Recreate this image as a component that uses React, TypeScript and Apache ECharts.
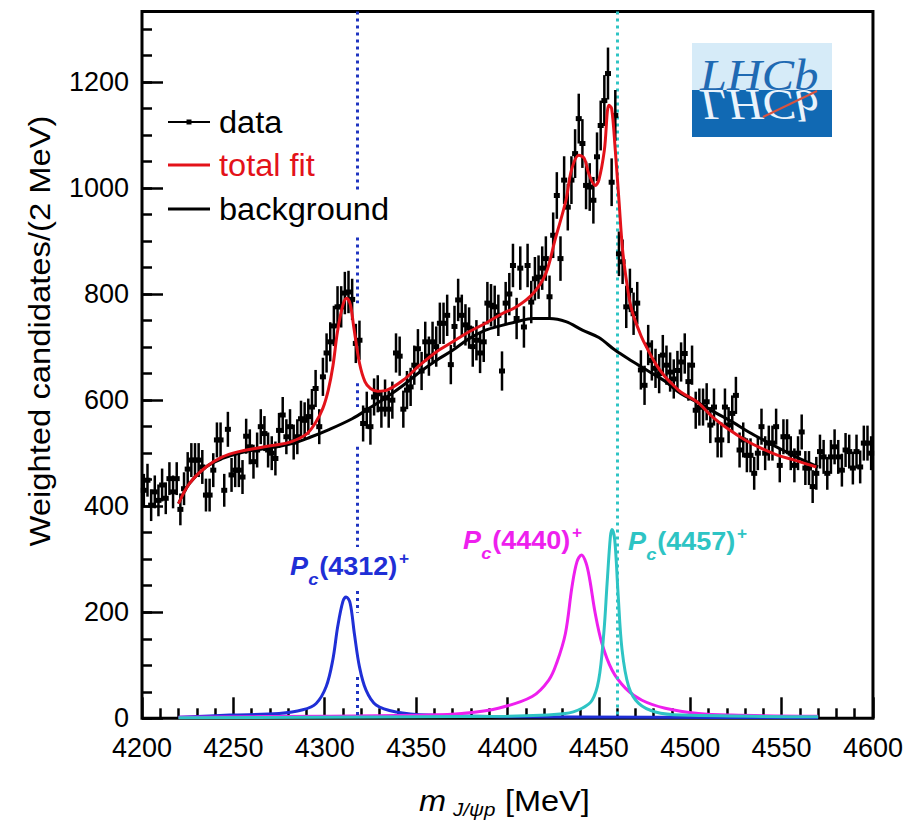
import React, { useEffect, useRef } from "react";
import * as echarts from "echarts";

// ---------- data ----------
const BIN_START = 4200;
const BIN_WIDTH = 2;

// weighted candidates per 2 MeV bin, 4200-4600 MeV (200 bins)
const counts = [
  430, 449, 402, 427, 411, 440, 415, 452, 427, 452,
  394, 433, 470, 487, 487, 487, 474, 421, 421, 468,
  525, 525, 430, 545, 459, 468, 468, 455, 532, 512,
  484, 506, 550, 537, 506, 500, 490, 543, 572, 531,
  550, 521, 531, 565, 562, 569, 587, 622, 550, 644,
  689, 710, 740, 776, 776, 802, 804, 790, 707, 713,
  556, 581, 550, 606, 612, 583, 604, 583, 600, 689,
  683, 583, 619, 625, 666, 697, 655, 710, 683, 710,
  701, 745, 745, 760, 667, 739, 789, 760, 742, 736,
  701, 713, 689, 710, 783, 779, 776, 760, 655, 783,
  800, 854, 754, 849, 738, 854, 785, 829, 832, 849,
  867, 795, 911, 986, 867, 1015, 964, 1015, 1065, 1131,
  1084, 1005, 1002, 977, 1059, 1118, 1165, 1216, 1011, 1137,
  876, 861, 776, 807, 763, 783, 657, 628, 704, 675,
  660, 650, 685, 666, 653, 640, 656, 672, 688, 635,
  666, 581, 587, 587, 597, 553, 587, 525, 525, 587,
  553, 575, 609, 506, 525, 496, 496, 462, 500, 550,
  500, 519, 519, 550, 477, 531, 531, 500, 477, 500,
  540, 472, 472, 437, 462, 503, 493, 462, 493, 512,
  493, 468, 506, 503, 472, 503, 474, 519, 519, 500,
];

const errors = [
  31, 31, 30, 31, 30, 31, 30, 31, 31, 31,
  30, 31, 32, 32, 32, 32, 32, 31, 31, 32,
  33, 33, 31, 33, 32, 32, 32, 32, 33, 33,
  32, 33, 33, 33, 33, 32, 32, 33, 34, 33,
  33, 33, 33, 34, 34, 34, 34, 35, 33, 36,
  37, 37, 38, 39, 39, 40, 40, 39, 37, 37,
  34, 35, 34, 35, 35, 35, 35, 35, 35, 37,
  37, 35, 36, 36, 37, 37, 36, 38, 37, 38,
  38, 39, 39, 39, 37, 39, 40, 39, 39, 39,
  38, 38, 38, 38, 40, 40, 40, 39, 37, 40,
  40, 41, 39, 41, 39, 41, 40, 41, 41, 41,
  42, 40, 43, 44, 42, 45, 44, 45, 46, 47,
  46, 45, 45, 44, 46, 47, 48, 49, 45, 48,
  42, 42, 40, 41, 40, 40, 37, 37, 38, 38,
  37, 37, 38, 37, 37, 37, 37, 37, 38, 36,
  37, 35, 35, 35, 35, 34, 35, 33, 33, 35,
  34, 34, 35, 33, 33, 32, 32, 31, 32, 34,
  32, 33, 33, 34, 32, 33, 33, 32, 32, 32,
  33, 32, 32, 31, 31, 32, 32, 31, 32, 33,
  32, 31, 32, 32, 31, 32, 31, 33, 33, 32,
];

// total fit (red)
const totMass = [4220, 4226, 4235, 4244, 4253, 4262, 4272, 4281, 4290, 4295, 4299, 4302, 4304.5, 4307, 4310, 4312, 4314, 4316, 4319, 4322, 4325, 4329, 4334, 4343, 4352, 4361, 4370, 4379, 4388, 4397, 4405, 4414, 4421, 4426, 4432, 4435, 4439, 4442, 4444.5, 4448, 4450, 4453, 4455.5, 4457, 4459, 4461, 4463, 4465.5, 4468, 4473, 4477, 4481, 4486, 4490, 4495, 4504, 4512, 4521, 4530, 4539, 4548, 4557, 4569];
const totVal = [405, 443, 474, 493, 503, 509, 515, 521, 536, 558, 585, 620, 665, 730, 780, 792, 780, 735, 670, 635, 622, 617, 619, 638, 666, 691, 710, 729, 745, 763, 776, 801, 839, 902, 977, 1034, 1062, 1056, 1027, 1005, 1015, 1071, 1156, 1150, 1071, 977, 883, 816, 770, 722, 694, 669, 645, 631, 615, 596, 569, 545, 525, 509, 496, 487, 474];

// background (black)
const bgMass = [4220, 4226, 4235, 4244, 4253, 4262, 4272, 4282, 4292, 4302, 4315, 4324, 4334, 4343, 4352, 4361, 4370, 4379, 4388, 4397, 4405, 4414, 4423, 4432, 4441, 4450, 4459, 4468, 4477, 4486, 4495, 4504, 4514, 4523, 4532, 4541, 4550, 4559, 4570];
const bgVal = [405, 443, 474, 490, 500, 506, 511, 518, 530, 544, 565, 584, 606, 628, 653, 675, 694, 716, 732, 741, 748, 754, 754, 748, 732, 718, 694, 674, 655, 636, 612, 596, 576, 559, 540, 523, 507, 491, 474];

// Pc(4312)+ (blue)
const pc4312Mass = [4220, 4248, 4275, 4288, 4295.3, 4300.8, 4304.4, 4307.1, 4309.9, 4311.7, 4313.9, 4316.2, 4319, 4322.6, 4328.1, 4339, 4357, 4400, 4480, 4570];
const pc4312Val = [2, 6, 9, 16, 28, 60, 110, 173, 220, 229, 217, 160, 97, 53, 25, 12, 6, 3, 2, 1];

// Pc(4440)+ (magenta)
const pc4440Mass = [4220, 4300, 4357, 4375, 4395, 4413.5, 4422.6, 4427, 4431.7, 4435.3, 4438, 4440.5, 4443, 4445, 4448, 4451.7, 4457.2, 4464.5, 4473.6, 4486.3, 4504.5, 4522.7, 4570];
const pc4440Val = [2, 4, 6, 9, 19, 41, 72, 105, 160, 248, 295, 308, 293, 262, 198, 141, 91, 57, 34, 19, 9, 6, 4];

// Pc(4457)+ (cyan)
const pc4457Mass = [4220, 4400, 4431.7, 4440.8, 4446.3, 4449.9, 4452.7, 4454.5, 4456.3, 4457.2, 4458.7, 4460.5, 4462.7, 4466.3, 4471.8, 4480.9, 4495.4, 4570];
const pc4457Val = [1, 4, 9, 19, 34, 72, 160, 254, 342, 356, 336, 236, 129, 60, 28, 12, 6, 3];

// thresholds (dotted lines)
const thrBlue = 4318;
const thrCyan = 4460;
const blueSegments = [[1333, 996], [907, 783], [632, 587], [512, 323], [240, 199], [78, 0]];
const cyanSegments = [[1333, 0]];

const xTicks = { min: 4200, max: 4600, interval: 50 };
const yTicks = { min: 0, max: 1333, interval: 200, minor: 50 };

// ---------- styling ----------
const FONT = "'Liberation Sans', Arial, Helvetica, sans-serif";
const SERIF = "'Liberation Serif', 'Times New Roman', serif";
const C_RED = "#e3121a";
const C_BLUE = "#1f2fd6";
const C_MAG = "#ee1fee";
const C_CYAN = "#2ec4c4";
const C_DOT_BLUE = "#1f34c0";

function pairs(xs: number[], ys: number[]) {
  return xs.map((x, i) => [x, ys[i]]);
}

function curve(name: string, xs: number[], ys: number[], color: string, z: number) {
  return {
    name,
    type: "line",
    data: pairs(xs, ys),
    showSymbol: false,
    symbol: "none",
    smooth: 0.35,
    lineStyle: { color, width: 3 },
    z,
    silent: true,
  };
}

function pcLabel(x0: number, base: number, mass: string, color: string) {
  const fs = 25;
  return {
    type: "group",
    x: x0,
    y: base,
    scaleX: 1.08,
    children: [
      { type: "text", x: 0, y: -8.5, style: { text: "P", fontFamily: FONT, fontSize: fs, fontWeight: "bold", fontStyle: "italic", fill: color, verticalAlign: "middle", align: "left" } },
      { type: "text", x: 17, y: 4, style: { text: "c", fontFamily: FONT, fontSize: 17, fontWeight: "bold", fontStyle: "italic", fill: color, verticalAlign: "middle", align: "left" } },
      { type: "text", x: 27, y: -8.5, style: { text: "(" + mass + ")", fontFamily: FONT, fontSize: fs, fontWeight: "bold", fill: color, verticalAlign: "middle", align: "left" } },
      { type: "text", x: 101, y: -16, style: { text: "+", fontFamily: FONT, fontSize: 16, fontWeight: "bold", fill: color, verticalAlign: "middle", align: "left" } },
    ],
  };
}

const plain = (v: number) => String(v);

export default function App() {
  const ref = useRef<HTMLDivElement>(null);

  useEffect(() => {
    if (!ref.current) return;
    const chart = echarts.init(ref.current, null, { renderer: "svg" });

    const dataPoints = counts.map((v, i) => [BIN_START + BIN_WIDTH * (i + 0.5), v, errors[i]]);

    const segLines = (x: number, segs: number[][]) =>
      segs.map((s) => [{ coord: [x, s[0]] }, { coord: [x, s[1]] }]);

    const option = {
      animation: false,
      backgroundColor: "#ffffff",
      grid: {
        left: 142,
        right: 31,
        top: 11.5,
        bottom: 102.7,
        show: true,
        borderColor: "#000",
        borderWidth: 3,
        backgroundColor: "transparent",
      },
      xAxis: [
        {
          type: "value",
          min: xTicks.min,
          max: xTicks.max,
          interval: xTicks.interval,
          axisLine: { show: false },
          axisTick: { show: true, inside: true, length: 21, lineStyle: { color: "#000", width: 2.5 } },
          minorTick: { show: true, splitNumber: 5, length: 10, lineStyle: { color: "#000", width: 2.5 } },
          splitLine: { show: false },
          minorSplitLine: { show: false },
          axisLabel: { fontSize: 27, color: "#000", fontFamily: FONT, margin: 16, formatter: plain },
        },
      ],
      yAxis: [
        {
          type: "value",
          position: "left",
          min: yTicks.min,
          max: yTicks.max,
          interval: yTicks.interval,
          axisLine: { show: false },
          axisTick: { show: true, inside: true, length: 21, lineStyle: { color: "#000", width: 2.5 } },
          splitLine: { show: false },
          axisLabel: { fontSize: 27, color: "#000", fontFamily: FONT, margin: 13, showMaxLabel: false, formatter: plain },
        },
        {
          type: "value",
          position: "left",
          offset: 0,
          min: yTicks.min,
          max: yTicks.max,
          interval: yTicks.minor,
          axisLine: { show: false },
          axisTick: { show: true, inside: true, length: 10, lineStyle: { color: "#000", width: 2.5 } },
          splitLine: { show: false },
          axisLabel: { show: false },
        },
      ],
      series: [
        {
          name: "thresholds",
          type: "line",
          data: [],
          silent: true,
          z: 1,
          markLine: {
            silent: true,
            symbol: "none",
            label: { show: false },
            animation: false,
            data: [
              ...segLines(thrBlue, blueSegments).map((d) => [
                { ...d[0], lineStyle: { color: C_DOT_BLUE, width: 3, type: [3, 4] } },
                d[1],
              ]),
              ...segLines(thrCyan, cyanSegments).map((d) => [
                { ...d[0], lineStyle: { color: C_CYAN, width: 3, type: [3, 4] } },
                d[1],
              ]),
            ],
          },
        },
        curve("Pc(4312)+", pc4312Mass, pc4312Val, C_BLUE, 2),
        curve("Pc(4440)+", pc4440Mass, pc4440Val, C_MAG, 3),
        curve("Pc(4457)+", pc4457Mass, pc4457Val, C_CYAN, 4),
        {
          name: "data",
          type: "custom",
          data: dataPoints,
          z: 5,
          silent: true,
          encode: { x: 0, y: 1 },
          renderItem: (params: any, api: any) => {
            const x = api.value(0);
            const y = api.value(1);
            const e = api.value(2);
            const c = api.coord([x, y]);
            const top = api.coord([x, y + e]);
            const bot = api.coord([x, y - e]);
            return {
              type: "group",
              children: [
                { type: "line", shape: { x1: c[0], y1: top[1], x2: c[0], y2: bot[1] }, style: { stroke: "#000", lineWidth: 2.5 } },
                { type: "rect", shape: { x: c[0] - 3, y: c[1] - 2.5, width: 6, height: 5 }, style: { fill: "#000" } },
              ],
            };
          },
        },
        curve("background", bgMass, bgVal, "#000", 6),
        curve("total fit", totMass, totVal, C_RED, 7),
      ],
      graphic: [
        // legend
        { type: "line", shape: { x1: 168, y1: 122, x2: 210, y2: 122 }, style: { stroke: "#000", lineWidth: 2 } },
        { type: "rect", shape: { x: 186.5, y: 119.5, width: 5, height: 5 }, style: { fill: "#000" } },
        { type: "text", x: 219, y: 122, scaleX: 1.05, style: { text: "data", fontFamily: FONT, fontSize: 31, fill: "#000", verticalAlign: "middle" } },
        { type: "line", shape: { x1: 168, y1: 165, x2: 210, y2: 165 }, style: { stroke: C_RED, lineWidth: 3 } },
        { type: "text", x: 219, y: 165.5, scaleX: 1.05, style: { text: "total fit", fontFamily: FONT, fontSize: 31, fill: C_RED, verticalAlign: "middle" } },
        { type: "line", shape: { x1: 168, y1: 209, x2: 210, y2: 209 }, style: { stroke: "#000", lineWidth: 3 } },
        { type: "text", x: 219, y: 209.5, scaleX: 1.05, style: { text: "background", fontFamily: FONT, fontSize: 31, fill: "#000", verticalAlign: "middle" } },

        // Pc labels
        pcLabel(290, 575, "4312", C_BLUE),
        pcLabel(463, 549, "4440", C_MAG),
        pcLabel(628, 550, "4457", C_CYAN),

        // LHCb logo
        { type: "rect", shape: { x: 692, y: 43, width: 140, height: 47 }, style: { fill: "#d6ebf8" } },
        { type: "rect", shape: { x: 692, y: 90, width: 140, height: 47 }, style: { fill: "#1169b3" } },
        { type: "text", x: 700, y: 90 - 15, scaleX: 1.1, style: { text: "LHCb", fontFamily: SERIF, fontStyle: "italic", fontSize: 44, fill: "#1f6ab3", verticalAlign: "middle" } },
        {
          type: "group",
          x: 700,
          y: 90,
          scaleY: -1,
          children: [
            { type: "text", x: 0, y: -15, scaleX: 1.1, style: { text: "LHCb", fontFamily: SERIF, fontStyle: "italic", fontSize: 44, fill: "#eaf3fb", verticalAlign: "middle" } },
          ],
        },
        { type: "line", shape: { x1: 763, y1: 117, x2: 817, y2: 91 }, style: { stroke: "#d9533f", lineWidth: 2 } },

        // axis titles
        { type: "text", x: 40, y: 331, rotation: Math.PI / 2, scaleX: 1.13, style: { text: "Weighted candidates/(2 MeV)", fontFamily: FONT, fontSize: 29, fill: "#000", align: "center", verticalAlign: "middle" } },
        { type: "text", x: 419, y: 801, scaleX: 1.12, style: { text: "m", fontFamily: FONT, fontStyle: "italic", fontSize: 29, fill: "#000", verticalAlign: "middle" } },
        { type: "text", x: 453, y: 809, scaleX: 1.08, style: { text: "J/ψp", fontFamily: FONT, fontStyle: "italic", fontSize: 19, fill: "#000", verticalAlign: "middle" } },
        { type: "text", x: 505, y: 801, scaleX: 1.12, style: { text: "[MeV]", fontFamily: FONT, fontSize: 29, fill: "#000", verticalAlign: "middle" } },
      ],
    };

    chart.setOption(option as any);
    return () => chart.dispose();
  }, []);

  return (
    <div
      ref={ref}
      style={{ position: "fixed", left: 0, top: 0, width: 906, height: 821, background: "#fff" }}
    />
  );
}
